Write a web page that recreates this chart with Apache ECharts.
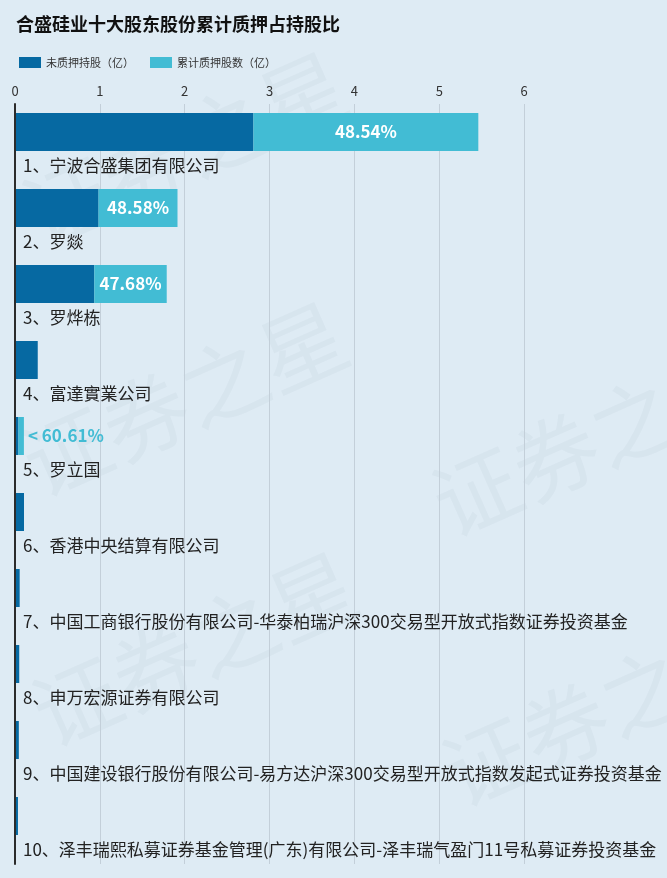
<!DOCTYPE html>
<html>
<head>
<meta charset="utf-8">
<script src="https://cdn.jsdelivr.net/npm/echarts@6/dist/echarts.min.js"></script>
<style>
html,body{margin:0;padding:0;background:#deebf4;}
#chart{width:667px;height:878px;}
</style>
</head>
<body>
<div id="chart"></div>
<script>
const titleText = '合盛硅业十大股东股份累计质押占持股比';
const seriesNames = ['未质押持股（亿）', '累计质押股数（亿）'];
const categories = [
  '1、宁波合盛集团有限公司',
  '2、罗燚',
  '3、罗烨栋',
  '4、富達實業公司',
  '5、罗立国',
  '6、香港中央结算有限公司',
  '7、中国工商银行股份有限公司-华泰柏瑞沪深300交易型开放式指数证券投资基金',
  '8、申万宏源证券有限公司',
  '9、中国建设银行股份有限公司-易方达沪深300交易型开放式指数发起式证券投资基金',
  '10、泽丰瑞熙私募证券基金管理(广东)有限公司-泽丰瑞气盈门11号私募证券投资基金'
];
const unpledged = [2.81, 0.985, 0.935, 0.268, 0.041, 0.106, 0.055, 0.05, 0.045, 0.035];
const pledged = [2.65, 0.93, 0.853, 0, 0.064, 0, 0, 0, 0, 0];
const pledgeRatio = ['48.54%', '48.58%', '47.68%', '', '60.61%', '', '', '', '', ''];
const xTicks = [0, 1, 2, 3, 4, 5, 6, 7];

const chart = echarts.init(document.getElementById('chart'), null, {renderer: 'canvas'});
const FONT = '"Noto Sans CJK SC", "Noto Sans", sans-serif';
const DARK = '#0669a2';
const CYAN = '#42bcd4';

function wm(x, y) {
  return {
    type: 'text', left: x, top: y, rotation: Math.PI / 7.5, silent: true, z: -1,
    style: {text: '证券之星', fontSize: 86, fontFamily: FONT, fill: 'rgba(120,140,160,0.06)'}
  };
}

const pledgedData = pledged.map((v, i) => {
  const item = {value: v};
  if (i === 4) {
    item.label = {show: true, position: 'right', distance: 4, color: CYAN, formatter: '< ' + pledgeRatio[i]};
  } else if (pledgeRatio[i]) {
    item.label = {show: true, position: 'inside', color: '#fff', formatter: pledgeRatio[i]};
  }
  return item;
});

chart.setOption({
  backgroundColor: '#deebf4',
  textStyle: {fontFamily: FONT},
  graphic: [wm(10, 40), wm(10, 290), wm(20, 540), wm(420, 330), wm(430, 600)],
  title: {
    text: titleText, left: 11, top: 10,
    textStyle: {fontSize: 18, fontWeight: 'bold', color: '#111', fontFamily: FONT}
  },
  legend: {
    data: seriesNames, left: 14, top: 52, icon: 'rect',
    itemWidth: 22, itemHeight: 11, itemGap: 16,
    textStyle: {fontSize: 11, color: '#333', fontFamily: FONT}
  },
  grid: {left: 15, right: 58, top: 104, bottom: 14, containLabel: false},
  xAxis: {
    type: 'value', position: 'top', min: 0, max: 7, interval: 1,
    axisLine: {show: false}, axisTick: {show: false},
    axisLabel: {fontSize: 13, color: '#333', margin: 6, showMaxLabel: false,
      formatter: v => xTicks.indexOf(v) >= 0 ? String(v) : ''},
    splitLine: {show: true, lineStyle: {color: ['#c3cfd9','#c3cfd9','#c3cfd9','#c3cfd9','#c3cfd9','#c3cfd9','#c3cfd9','rgba(0,0,0,0)'], width: 1}}
  },
  yAxis: {
    type: 'category', data: categories, inverse: true, z: 10,
    axisLine: {show: true, lineStyle: {color: '#2b2b2b', width: 2}},
    axisTick: {show: false},
    axisLabel: {inside: true, margin: 8, align: 'left', verticalAlign: 'top',
      lineHeight: 48, fontSize: 17, color: '#222', fontFamily: FONT}
  },
  series: [
    {
      name: seriesNames[0], type: 'bar', stack: 'total', barWidth: 38, barGap: '-47.4%',
      itemStyle: {color: DARK}, data: unpledged
    },
    {
      name: seriesNames[1], type: 'bar', stack: 'total', barWidth: 38,
      itemStyle: {color: CYAN},
      label: {show: false, fontSize: 17, fontWeight: 'bold', fontFamily: FONT},
      data: pledgedData
    },
    {
      name: 'spacer', type: 'bar', stack: 'spacer', barWidth: 38, silent: true,
      itemStyle: {color: 'rgba(0,0,0,0)'}, data: categories.map(() => 0)
    }
  ]
});
</script>
</body>
</html>
